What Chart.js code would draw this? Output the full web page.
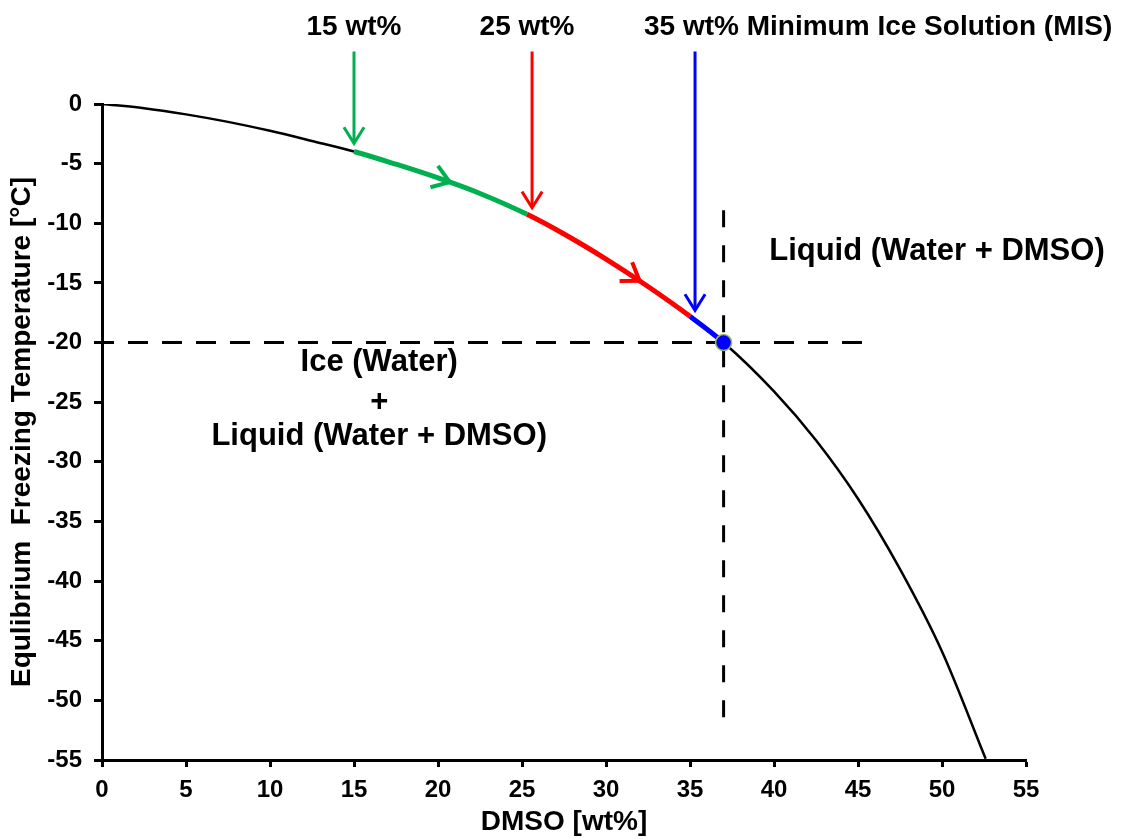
<!DOCTYPE html>
<html>
<head>
<meta charset="utf-8">
<script src="https://cdn.jsdelivr.net/npm/chart.js@4.4.1/dist/chart.umd.min.js"></script>
<style>
html,body{margin:0;padding:0;background:#fff;}
#wrap{width:1126px;height:839px;}
</style>
</head>
<body>
<div id="wrap"><canvas id="c" width="1126" height="839"></canvas></div>
<script>
// ---------- data ----------
const dmso        = [0, 2.5, 5, 7.5, 10, 12.5, 15, 17.5, 20, 22.5, 25.3, 27.5, 30, 32.5, 35, 37, 40, 42.5, 45, 47.5, 50, 52.6];
const temperature = [0, -0.35, -0.87, -1.5, -2.25, -3.1, -3.98, -5.05, -6.2, -7.5, -9.25, -10.9, -13.0, -15.3, -17.8, -20.0, -24.1, -28.2, -33.1, -39.0, -45.9, -54.9];

const phaseStart = [15, 25.3, 35];
const phaseEnd   = [25.3, 35, 37];

const misX = [37];
const misY = [-20];

const xTickValues = [0, 5, 10, 15, 20, 25, 30, 35, 40, 45, 50, 55];
const yTickValues = [0, -5, -10, -15, -20, -25, -30, -35, -40, -45, -50, -55];

const hGuideX = [0, 45.6];
const hGuideY = [-20, -20];
const vGuideX = [37, 37];
const vGuideY = [-8.9, -52.7];

const markerX     = [15, 25.6, 35.3];
const markerTop   = [4.4, 4.4, 4.4];
const markerTip   = [-3.3, -8.7, -17.3];
const markerText  = ['15 wt%', '25 wt%', '35 wt% Minimum Ice Solution (MIS)'];
const markerTextX = [15, 25.3, 46.2];
const markerTextY = [6.4, 6.4, 6.4];

const flowX = [20.7, 32];

const regionText = ['Liquid (Water + DMSO)', 'Ice (Water)', '+', 'Liquid (Water + DMSO)'];
const regionX    = [49.7, 16.5, 16.5, 16.5];
const regionY    = [-12.4, -21.7, -25.0, -27.9];

// ---------- styles ----------
const phaseColors = ['#00B050', '#FF0000', '#0000FF'];
const FONT = "'Liberation Sans', Arial, Helvetica, sans-serif";

function phaseIndex(x0, x1) {
  const mid = (x0 + x1) / 2;
  for (let i = 0; i < phaseStart.length; i++) {
    if (mid >= phaseStart[i] && mid <= phaseEnd[i]) return i;
  }
  return -1;
}

function xy(xs, ys) { return xs.map((x, i) => ({x: x, y: ys[i]})); }

const annotatePlugin = {
  id: 'annotate',
  afterDatasetsDraw(chart) {
    const ctx = chart.ctx;
    const xs = chart.scales.x, ys = chart.scales.y;
    const curveMeta = chart.getDatasetMeta(3);
    const line = curveMeta.dataset;

    function curveAt(px) {
      let p = null;
      try { p = line.interpolate({x: px}, 'x'); } catch (e) { p = null; }
      if (!p) {
        for (let i = 0; i < dmso.length - 1; i++) {
          const a = xs.getPixelForValue(dmso[i]), b = xs.getPixelForValue(dmso[i + 1]);
          if (px >= a && px <= b) {
            const t = (px - a) / (b - a);
            const ya = ys.getPixelForValue(temperature[i]), yb = ys.getPixelForValue(temperature[i + 1]);
            return {x: px, y: ya + t * (yb - ya)};
          }
        }
      }
      return p;
    }

    function chevron(tx, ty, ang, len, spread, color, width) {
      ctx.save();
      ctx.strokeStyle = color;
      ctx.lineWidth = width;
      ctx.lineCap = 'butt';
      ctx.lineJoin = 'miter';
      ctx.beginPath();
      ctx.moveTo(tx - len * Math.cos(ang - spread), ty - len * Math.sin(ang - spread));
      ctx.lineTo(tx, ty);
      ctx.lineTo(tx - len * Math.cos(ang + spread), ty - len * Math.sin(ang + spread));
      ctx.stroke();
      ctx.restore();
    }

    // vertical composition arrows
    for (let i = 0; i < markerX.length; i++) {
      const px = xs.getPixelForValue(markerX[i]);
      const y0 = ys.getPixelForValue(markerTop[i]);
      const y1 = ys.getPixelForValue(markerTip[i]);
      ctx.save();
      ctx.strokeStyle = phaseColors[i];
      ctx.lineWidth = 3;
      ctx.beginPath();
      ctx.moveTo(px, y0);
      ctx.lineTo(px, y1 - 1);
      ctx.stroke();
      ctx.restore();
      chevron(px, y1, Math.PI / 2, 19, 0.56, phaseColors[i], 3);
    }

    // flow arrowheads on curve
    for (let i = 0; i < flowX.length; i++) {
      const px = xs.getPixelForValue(flowX[i]);
      const a = curveAt(px - 4), b = curveAt(px);
      if (!a || !b) continue;
      const ang = Math.atan2(b.y - a.y, b.x - a.x);
      chevron(b.x, b.y, ang, 20, 0.6, phaseColors[i], 4);
    }

    // texts
    ctx.save();
    ctx.fillStyle = '#000';
    ctx.textAlign = 'center';
    ctx.textBaseline = 'middle';
    ctx.font = 'bold 28px ' + FONT;
    for (let i = 0; i < markerText.length; i++) {
      ctx.fillText(markerText[i], xs.getPixelForValue(markerTextX[i]), ys.getPixelForValue(markerTextY[i]));
    }
    ctx.font = 'bold 31px ' + FONT;
    for (let i = 0; i < regionText.length; i++) {
      ctx.fillText(regionText[i], xs.getPixelForValue(regionX[i]), ys.getPixelForValue(regionY[i]));
    }
    ctx.restore();
  }
};

Chart.defaults.font.family = FONT;
Chart.defaults.font.weight = 'bold';
Chart.defaults.color = '#000';

new Chart(document.getElementById('c'), {
  type: 'scatter',
  data: {
    datasets: [
      {
        label: 'MIS',
        data: xy(misX, misY),
        pointRadius: 8,
        pointHoverRadius: 8,
        pointBackgroundColor: '#0000FF',
        pointBorderColor: '#9BBB59',
        pointBorderWidth: 1.5,
        showLine: false,
        order: 0
      },
      {
        label: 'hGuide',
        data: xy(hGuideX, hGuideY),
        showLine: true,
        pointRadius: 0,
        borderColor: '#000',
        borderWidth: 3,
        borderDash: [20, 14],
        borderDashOffset: 8,
        order: 5
      },
      {
        label: 'vGuide',
        data: xy(vGuideX, vGuideY),
        showLine: true,
        pointRadius: 0,
        borderColor: '#000',
        borderWidth: 3,
        borderDash: [17, 18],
        order: 5
      },
      {
        label: 'Freezing curve',
        data: xy(dmso, temperature),
        showLine: true,
        pointRadius: 0,
        borderColor: '#000',
        borderWidth: 2.5,
        cubicInterpolationMode: 'monotone',
        borderCapStyle: 'butt',
        segment: {
          borderColor: c => { const k = phaseIndex(c.p0.parsed.x, c.p1.parsed.x); return k < 0 ? '#000' : phaseColors[k]; },
          borderWidth: c => phaseIndex(c.p0.parsed.x, c.p1.parsed.x) < 0 ? 2.5 : 5
        },
        order: 2
      }
    ]
  },
  options: {
    responsive: false,
    animation: false,
    devicePixelRatio: 1,
    layout: {padding: {top: 104, right: 100, left: 0, bottom: 0}},
    plugins: {legend: {display: false}, tooltip: {enabled: false}},
    scales: {
      x: {
        type: 'linear',
        position: 'bottom',
        min: 0, max: 55,
        afterBuildTicks: s => { s.ticks = xTickValues.map(v => ({value: v})); },
        afterFit: s => { s.height = 79; },
        ticks: {color: '#000', font: {size: 24, weight: 'bold'}, padding: 9, maxRotation: 0, autoSkip: false},
        grid: {drawOnChartArea: false, drawTicks: true, tickLength: 7, tickColor: '#000', tickWidth: 3},
        border: {display: true, color: '#000', width: 3},
        title: {display: true, text: 'DMSO [wt%]', color: '#000', font: {size: 28, weight: 'bold'}, padding: {top: 0, bottom: 0}}
      },
      y: {
        type: 'linear',
        position: 'left',
        min: -55, max: 0,
        afterBuildTicks: s => { s.ticks = yTickValues.slice().reverse().map(v => ({value: v})); },
        afterFit: s => { s.width = 102; },
        ticks: {color: '#000', font: {size: 24, weight: 'bold'}, padding: 12, autoSkip: false},
        grid: {drawOnChartArea: false, drawTicks: true, tickLength: 8, tickColor: '#000', tickWidth: 3},
        border: {display: true, color: '#000', width: 3},
        title: {display: true, text: 'Equlibrium  Freezing Temperature [°C]', color: '#000', font: {size: 28, weight: 'bold'}, padding: {top: 5, bottom: 0}}
      }
    }
  },
  plugins: [annotatePlugin]
});
</script>
</body>
</html>
